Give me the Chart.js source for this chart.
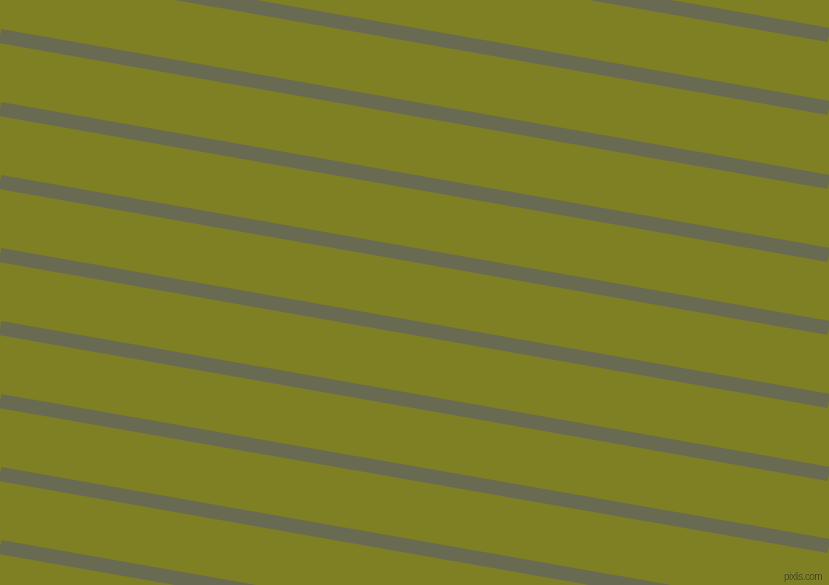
<!DOCTYPE html>
<html>
<head>
<meta charset="utf-8">
<script src="https://cdn.jsdelivr.net/npm/chart.js@4"></script>
<style>
  html, body { margin: 0; padding: 0; background: #7f8024; overflow: hidden; }
  #wrap { position: relative; width: 829px; height: 585px; }
  #credit {
    position: absolute; right: 7px; bottom: 3px; white-space: nowrap;
    font: 10px "Liberation Sans", sans-serif; letter-spacing: -0.6px;
    color: #3c3f14; text-shadow: 0 0 1px #a6a852;
  }
</style>
</head>
<body>
<div id="wrap">
  <canvas id="myChart" width="829" height="585"></canvas>
  <div id="credit">pixlis.com</div>
</div>
<script>
// x positions of the left and right picture edges
const xEdges = [0, 829];

// centre of each stripe where it meets the left edge / the right edge (px from top)
const stripeStartY = [-111, -38, 36, 109, 182, 255, 328, 401, 474, 547];
const stripeEndY = [35, 108, 182, 255, 328, 401, 474, 546, 620, 693];

const bgColor = "#7f8024"; // olive
const stripeColor = "#686b51"; // grey stripes

const data = {
  datasets: stripeStartY.map((y0, i) => ({
    label: "stripe " + (i + 1),
    data: [
      { x: xEdges[0], y: y0 },
      { x: xEdges[1], y: stripeEndY[i] },
    ],
    showLine: true,
    borderColor: stripeColor,
    borderWidth: 14.2,
    borderCapStyle: "butt",
    pointRadius: 0,
    pointHoverRadius: 0,
    clip: false,
  })),
};

// paint the olive background under the lines
const background = {
  id: "background",
  beforeDraw(chart) {
    const ctx = chart.ctx;
    ctx.save();
    ctx.fillStyle = bgColor;
    ctx.fillRect(0, 0, chart.width, chart.height);
    ctx.restore();
  },
};

const config = {
  type: "scatter",
  data: data,
  options: {
    responsive: false,
    devicePixelRatio: 1,
    animation: false,
    events: [],
    layout: { padding: 0 },
    plugins: { legend: { display: false }, tooltip: { enabled: false } },
    scales: {
      x: { type: "linear", min: 0, max: 829, display: false },
      y: { type: "linear", min: 0, max: 585, reverse: true, display: false },
    },
  },
  plugins: [background],
};

const myChart = new Chart(document.getElementById("myChart"), config);
</script>
</body>
</html>
